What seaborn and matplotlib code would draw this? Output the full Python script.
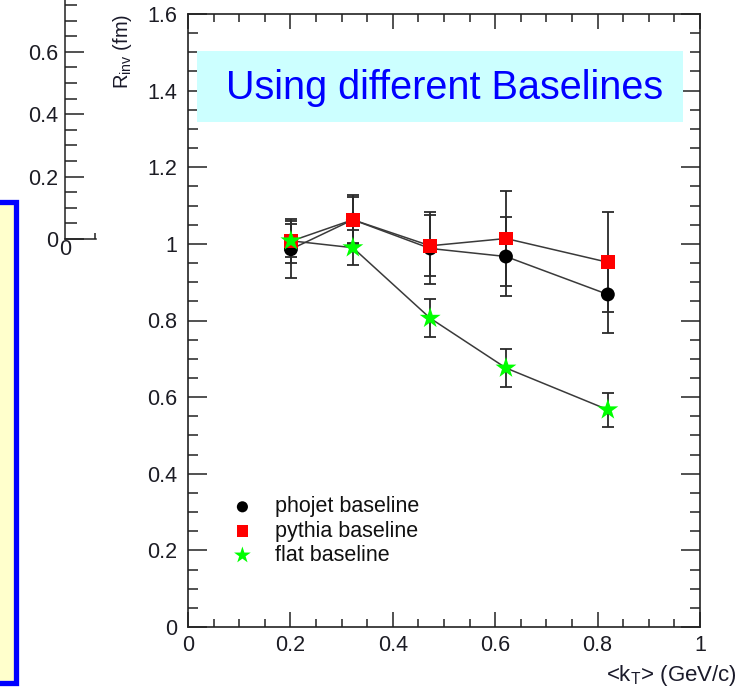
import numpy as np
import pandas as pd
import matplotlib
matplotlib.use("Agg")
import matplotlib.pyplot as plt
import seaborn as sns
from matplotlib.ticker import MultipleLocator, FuncFormatter
from matplotlib.patches import Rectangle

# ---- data ----
kt = [0.201, 0.322, 0.473, 0.621, 0.820]
phojet = [0.986, 1.063, 0.988, 0.967, 0.868]
phojet_err = [0.075, 0.064, 0.094, 0.104, 0.100]
pythia = [1.007, 1.063, 0.995, 1.014, 0.952]
pythia_err = [0.058, 0.060, 0.080, 0.123, 0.130]
flat = [1.008, 0.990, 0.806, 0.676, 0.567]
flat_err = [0.043, 0.046, 0.050, 0.050, 0.045]
series_names = ["phojet baseline", "pythia baseline", "flat baseline"]
title_text = "Using different Baselines"

sns.set_theme(style="ticks")
plt.rcParams["font.family"] = ["Liberation Sans", "DejaVu Sans"]
plt.rcParams["mathtext.default"] = "regular"

W, H = 743, 687
fig = plt.figure(figsize=(W / 100, H / 100), dpi=100)
fig.patch.set_facecolor("white")

def px(x0, y0, x1, y1):
    """pixel box (top-left origin) -> figure fraction rect"""
    return [x0 / W, 1 - y1 / H, (x1 - x0) / W, (y1 - y0) / H]

tick_color = "#1c1c24"
tick_fs = 15.5
fmt = FuncFormatter(lambda v, p: "%g" % round(v, 3))

# ---- yellow box on the left (slide decoration) ----
fig.patches.append(Rectangle((-30 / W, 1 - 683 / H), (30 + 15.5) / W, (683 - 202) / H,
                             transform=fig.transFigure, facecolor="#FFFFCC",
                             edgecolor="#0000FF", linewidth=3.8, zorder=0))

# ---- partial left axis (from another plot) ----
axl = fig.add_axes(px(65, 0, 96, 239))
axl.set_xlim(0, 0.31)
axl.set_ylim(0, 239 / 312)
axl.patch.set_alpha(0)
for s in ["top", "right"]:
    axl.spines[s].set_visible(False)
for s in ["left", "bottom"]:
    axl.spines[s].set_color("#222222")
    axl.spines[s].set_linewidth(1.1)
axl.yaxis.set_major_locator(MultipleLocator(0.2))
axl.yaxis.set_minor_locator(MultipleLocator(0.05))
axl.yaxis.set_major_formatter(fmt)
axl.set_xticks([0])
axl.set_xticks([0.3], minor=True)
axl.xaxis.set_major_formatter(fmt)
axl.tick_params(axis="y", which="major", direction="in", length=14, width=1.1,
                labelsize=tick_fs, labelcolor=tick_color, color="#222222", pad=5)
axl.tick_params(axis="y", which="minor", direction="in", length=8.5, width=1.1, color="#222222")
axl.tick_params(axis="x", which="major", direction="in", length=0, labelsize=tick_fs,
                labelcolor=tick_color, pad=0)
axl.tick_params(axis="x", which="minor", direction="in", length=4, width=1.1, color="#222222")

# ---- main axes ----
ax = fig.add_axes(px(188, 14, 700, 627))
ax.set_xlim(0, 1)
ax.set_ylim(0, 1.6)

colors = ["black", "#FF0000", "#00FF00"]
markers = ["o", "s", "*"]
sizes = [100, 100, 250]
vals = [phojet, pythia, flat]
errs = [phojet_err, pythia_err, flat_err]

df = pd.DataFrame({
    "kt": kt * 3,
    "R": phojet + pythia + flat,
    "series": [n for n in series_names for _ in kt],
})

for i, (v, e) in enumerate(zip(vals, errs)):
    ax.errorbar(kt, v, yerr=e, fmt="none", ecolor="#2a2a2a", elinewidth=1.3,
                capsize=4.5, capthick=1.3, zorder=2)
    sns.lineplot(x=kt, y=v, color="#3a3a3a", linewidth=1.1, ax=ax, zorder=3,
                 legend=False)

for i, name in enumerate(series_names):
    sub = df[df["series"] == name]
    sns.scatterplot(data=sub, x="kt", y="R", color=colors[i], marker=markers[i],
                    s=sizes[i], edgecolor="none", linewidth=0, ax=ax,
                    zorder=4 + i, label=name)

ax.set_xlabel("<k$_T$> (GeV/c)", fontsize=16, color="#1a1a2a")
ax.xaxis.label.set_ha("right")
ax.xaxis.label.set_va("center")
ax.xaxis.set_label_coords((737 - 188) / 512, -(675 - 627) / 613)
ax.set_ylabel("R$_{inv}$ (fm)", fontsize=14.5, color="#1a1a2a", loc="top", labelpad=9)

ax.xaxis.set_major_locator(MultipleLocator(0.2))
ax.xaxis.set_minor_locator(MultipleLocator(0.05))
ax.yaxis.set_major_locator(MultipleLocator(0.2))
ax.yaxis.set_minor_locator(MultipleLocator(0.05))
ax.xaxis.set_major_formatter(fmt)
ax.yaxis.set_major_formatter(fmt)
ax.tick_params(which="both", direction="in", top=True, right=True, color="#222222", width=1.1)
ax.tick_params(axis="x", which="major", length=11, labelsize=tick_fs, labelcolor=tick_color, pad=6)
ax.tick_params(axis="x", which="minor", length=6)
ax.tick_params(axis="y", which="major", length=14, labelsize=tick_fs, labelcolor=tick_color, pad=8)
ax.tick_params(axis="y", which="minor", length=7)
for s in ax.spines.values():
    s.set_color("#222222")
    s.set_linewidth(1.2)

# legend
handles, labels = ax.get_legend_handles_labels()
leg = ax.legend(handles, labels, loc="upper left", bbox_to_anchor=(0.06, 0.227),
                frameon=False, fontsize=15.5, handletextpad=0.8, labelspacing=0.15,
                markerscale=0.8, borderaxespad=0, handlelength=1.4)
for t in leg.get_texts():
    t.set_color("#111111")

# cyan title box
fig.patches.append(Rectangle((197 / W, 1 - 122 / H), (683 - 197) / W, (122 - 51) / H,
                             transform=fig.transFigure, facecolor="#CCFFFF",
                             edgecolor="none", zorder=5))
fig.text(445 / W, 1 - 88 / H, title_text, color="#0000FF", fontsize=28.5,
         ha="center", va="center", zorder=6)

fig.savefig("out.png", dpi=100)
